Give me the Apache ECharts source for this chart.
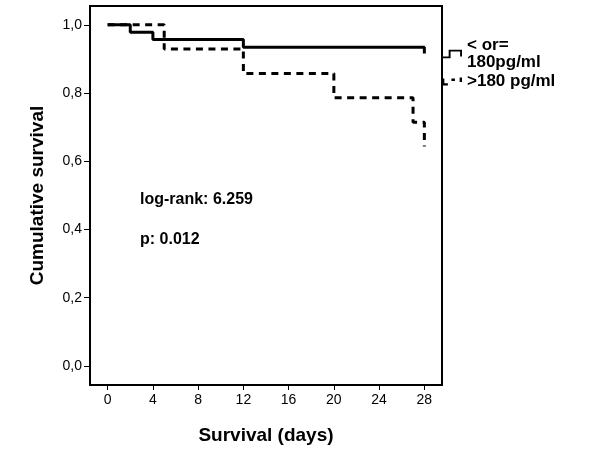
<!DOCTYPE html>
<html>
<head>
<meta charset="utf-8">
<script src="https://cdn.jsdelivr.net/npm/echarts@6/dist/echarts.min.js"></script>
<style>html,body{margin:0;padding:0;background:#fff}#c{width:600px;height:450px}</style>
</head>
<body>
<div id="c"></div>
<script>
// Kaplan-Meier steps [day, cumulative survival]
const lowGroup = [[0, 1.0], [2, 0.978], [4, 0.957], [12, 0.934], [28, 0.934], [28, 0.916]];
const highGroup = [[0, 1.0], [5, 0.929], [12, 0.857], [20, 0.786], [27, 0.714], [28, 0.643]];
const seriesNames = ['< or=\n180pg/ml', '>180 pg/ml'];
const xTicks = [0, 4, 8, 12, 16, 20, 24, 28];
const yTicks = [0, 0.2, 0.4, 0.6, 0.8, 1.0];
const annotations = ['log-rank: 6.259', 'p: 0.012'];

const chart = echarts.init(document.getElementById('c'), null, {renderer: 'canvas'});
const font = 'Arial, "Liberation Sans", sans-serif';
chart.setOption({
  backgroundColor: '#fff',
  animation: false,
  grid: {left: 90, top: 6, right: 158, bottom: 64, show: true, borderColor: '#000', borderWidth: 2, backgroundColor: 'transparent'},
  xAxis: {
    type: 'value', min: -1.56, max: 29.56,
    name: 'Survival (days)', nameLocation: 'middle', nameGap: 41,
    nameTextStyle: {fontFamily: font, fontWeight: 'bold', fontSize: 19, color: '#000'},
    axisLine: {show: true, onZero: false, lineStyle: {color: '#000', width: 2}},
    axisTick: {show: true, length: 5, customValues: xTicks, lineStyle: {color: '#000', width: 1}},
    axisLabel: {customValues: xTicks, fontFamily: font, fontSize: 14, color: '#000', margin: 8},
    splitLine: {show: false}
  },
  yAxis: {
    type: 'value', min: -0.056, max: 1.055,
    name: 'Cumulative survival', nameLocation: 'middle', nameGap: 43,
    nameTextStyle: {fontFamily: font, fontWeight: 'bold', fontSize: 19, color: '#000'},
    axisLine: {show: true, onZero: false, lineStyle: {color: '#000', width: 2}},
    axisTick: {show: true, length: 6, customValues: yTicks, lineStyle: {color: '#000', width: 1}},
    axisLabel: {customValues: yTicks, fontFamily: font, fontSize: 14, color: '#000', margin: 8,
      formatter: v => v.toFixed(1).replace('.', ',')},
    splitLine: {show: false}
  },
  legend: {
    orient: 'vertical', left: 442, top: 37, padding: 0, itemGap: 2, itemWidth: 20, itemHeight: 9,
    itemStyle: {color: '#000', borderWidth: 0},
    textStyle: {fontFamily: font, fontWeight: 'bold', fontSize: 17, color: '#000', lineHeight: 17},
    data: [
      {name: seriesNames[0], icon: 'path://M0,7H7V0H21V7H19V2H9V9H0Z'},
      {name: seriesNames[1], icon: 'path://M0,3H2V9H0Z M0,7H5V9H0Z M8,3H11V5H8Z M15,2H17V6H15Z'}
    ]
  },
  graphic: [
    {type: 'text', left: 140, top: 192, style: {text: annotations[0], font: 'bold 16px ' + font, fill: '#000'}},
    {type: 'text', left: 140, top: 232, style: {text: annotations[1], font: 'bold 16px ' + font, fill: '#000'}}
  ],
  series: [
    {name: seriesNames[0], type: 'line', step: 'end', data: lowGroup, showSymbol: false, silent: true,
      itemStyle: {color: '#000'}, lineStyle: {color: '#000', width: 3, type: 'solid'}},
    {name: seriesNames[1], type: 'line', step: 'end', data: highGroup, showSymbol: false, silent: true,
      itemStyle: {color: '#000'}, lineStyle: {color: '#000', width: 3, type: [7, 5.5]}}
  ]
});
</script>
</body>
</html>
